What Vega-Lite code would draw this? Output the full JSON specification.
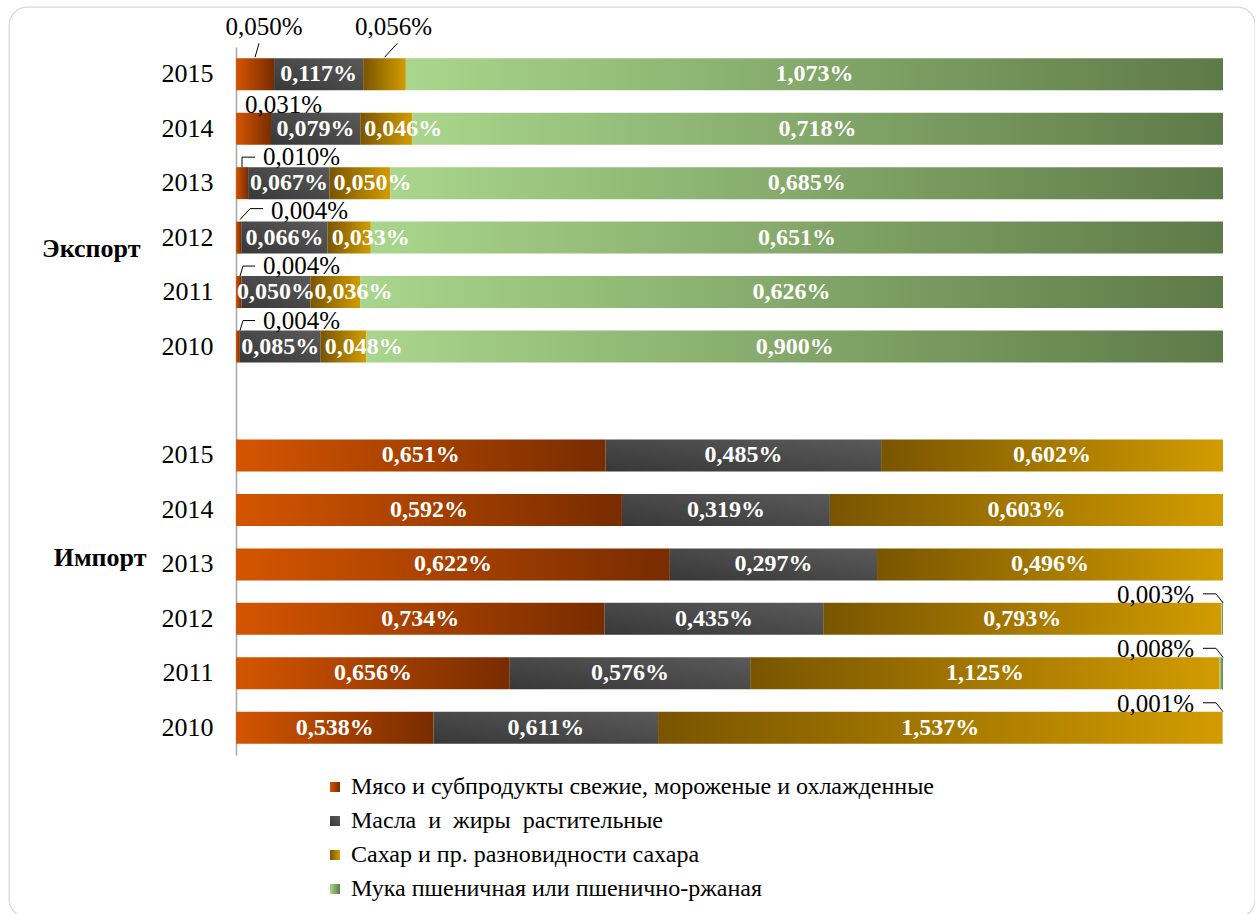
{
  "$schema": "https://vega.github.io/schema/vega-lite/v6.json",
  "width": 1246,
  "height": 910,
  "autosize": {"type": "none"},
  "padding": {"left": 9, "top": 7, "right": 0, "bottom": 0},
  "config": {
    "view": {"stroke": "#d9d9d9", "strokeWidth": 1.3, "cornerRadius": 18},
    "font": "Liberation Serif"
  },
  "data": {
    "values": [
      {"g": "Экспорт", "y": "2015", "k": "M", "v": 0.050},
      {"g": "Экспорт", "y": "2015", "k": "F", "v": 0.117},
      {"g": "Экспорт", "y": "2015", "k": "S", "v": 0.056},
      {"g": "Экспорт", "y": "2015", "k": "W", "v": 1.073},
      {"g": "Экспорт", "y": "2014", "k": "M", "v": 0.031},
      {"g": "Экспорт", "y": "2014", "k": "F", "v": 0.079},
      {"g": "Экспорт", "y": "2014", "k": "S", "v": 0.046},
      {"g": "Экспорт", "y": "2014", "k": "W", "v": 0.718},
      {"g": "Экспорт", "y": "2013", "k": "M", "v": 0.010},
      {"g": "Экспорт", "y": "2013", "k": "F", "v": 0.067},
      {"g": "Экспорт", "y": "2013", "k": "S", "v": 0.050},
      {"g": "Экспорт", "y": "2013", "k": "W", "v": 0.685},
      {"g": "Экспорт", "y": "2012", "k": "M", "v": 0.004},
      {"g": "Экспорт", "y": "2012", "k": "F", "v": 0.066},
      {"g": "Экспорт", "y": "2012", "k": "S", "v": 0.033},
      {"g": "Экспорт", "y": "2012", "k": "W", "v": 0.651},
      {"g": "Экспорт", "y": "2011", "k": "M", "v": 0.004},
      {"g": "Экспорт", "y": "2011", "k": "F", "v": 0.050},
      {"g": "Экспорт", "y": "2011", "k": "S", "v": 0.036},
      {"g": "Экспорт", "y": "2011", "k": "W", "v": 0.626},
      {"g": "Экспорт", "y": "2010", "k": "M", "v": 0.004},
      {"g": "Экспорт", "y": "2010", "k": "F", "v": 0.085},
      {"g": "Экспорт", "y": "2010", "k": "S", "v": 0.048},
      {"g": "Экспорт", "y": "2010", "k": "W", "v": 0.900},
      {"g": "Импорт", "y": "2015", "k": "M", "v": 0.651},
      {"g": "Импорт", "y": "2015", "k": "F", "v": 0.485},
      {"g": "Импорт", "y": "2015", "k": "S", "v": 0.602},
      {"g": "Импорт", "y": "2014", "k": "M", "v": 0.592},
      {"g": "Импорт", "y": "2014", "k": "F", "v": 0.319},
      {"g": "Импорт", "y": "2014", "k": "S", "v": 0.603},
      {"g": "Импорт", "y": "2013", "k": "M", "v": 0.622},
      {"g": "Импорт", "y": "2013", "k": "F", "v": 0.297},
      {"g": "Импорт", "y": "2013", "k": "S", "v": 0.496},
      {"g": "Импорт", "y": "2012", "k": "M", "v": 0.734},
      {"g": "Импорт", "y": "2012", "k": "F", "v": 0.435},
      {"g": "Импорт", "y": "2012", "k": "S", "v": 0.793},
      {"g": "Импорт", "y": "2012", "k": "W", "v": 0.003},
      {"g": "Импорт", "y": "2011", "k": "M", "v": 0.656},
      {"g": "Импорт", "y": "2011", "k": "F", "v": 0.576},
      {"g": "Импорт", "y": "2011", "k": "S", "v": 1.125},
      {"g": "Импорт", "y": "2011", "k": "W", "v": 0.008},
      {"g": "Импорт", "y": "2010", "k": "M", "v": 0.538},
      {"g": "Импорт", "y": "2010", "k": "F", "v": 0.611},
      {"g": "Импорт", "y": "2010", "k": "S", "v": 1.537},
      {"g": "Импорт", "y": "2010", "k": "W", "v": 0.001}
    ]
  },
  "transform": [
    {"calculate": "datum.g + ' ' + datum.y", "as": "r"},
    {"calculate": "indexof(['M','F','S','W'], datum.k)", "as": "o"},
    {"calculate": "datum.k == 'M' ? 'Мясо и субпродукты свежие, мороженые и охлажденные' : datum.k == 'F' ? 'Масла\u00a0 и\u00a0 жиры\u00a0 растительные' : datum.k == 'S' ? 'Сахар и пр. разновидности сахара' : 'Мука пшеничная или пшенично-ржаная'", "as": "c"},
    {"stack": "v", "groupby": ["r"], "sort": [{"field": "o", "order": "ascending"}], "offset": "normalize", "as": ["x0", "x1"]},
    {"calculate": "(datum.x0 + datum.x1) / 2", "as": "xm"},
    {"calculate": "replace(format(datum.v, '.3f'), '.', ',') + '%'", "as": "lab"}
  ],
  "resolve": {"axis": {"y": "independent"}},
  "layer": [
    {
      "mark": {"type": "bar"},
      "encoding": {
        "y": {
          "field": "r", "type": "nominal",
          "scale": {"domain": ["Экспорт 2015", "Экспорт 2014", "Экспорт 2013", "Экспорт 2012", "Экспорт 2011", "Экспорт 2010", " ", "Импорт 2015", "Импорт 2014", "Импорт 2013", "Импорт 2012", "Импорт 2011", "Импорт 2010"], "range": [40, 748], "paddingInner": 0.4124, "paddingOuter": 0.2062},
          "axis": {"orient": "left", "offset": -227, "title": null, "domain": true, "domainColor": "#a6a6a6", "domainWidth": 1.5, "ticks": false, "tickSize": 0, "grid": false, "labelPadding": 23, "labelFont": "Liberation Serif", "labelFontSize": 26, "labelColor": "#000000", "labelExpr": "slice(datum.value, -4)"}
        },
        "x": {"field": "x0", "type": "quantitative", "scale": {"domain": [0, 1], "range": [227, 1214], "nice": false}, "axis": null},
        "x2": {"field": "x1"},
        "color": {
          "field": "c", "type": "nominal",
          "scale": {
            "domain": ["Мясо и субпродукты свежие, мороженые и охлажденные", "Масла\u00a0 и\u00a0 жиры\u00a0 растительные", "Сахар и пр. разновидности сахара", "Мука пшеничная или пшенично-ржаная"],
            "range": [
              {"expr": "{gradient: 'linear', x1: 0, y1: 0, x2: 1, y2: 0, stops: [{offset: 0, color: '#d45500'}, {offset: 1, color: '#782c00'}]}"},
              {"expr": "{gradient: 'linear', x1: 0, y1: 1, x2: 1, y2: 0, stops: [{offset: 0, color: '#383838'}, {offset: 1, color: '#5a5a5a'}]}"},
              {"expr": "{gradient: 'linear', x1: 0, y1: 0, x2: 1, y2: 0, stops: [{offset: 0, color: '#795500'}, {offset: 1, color: '#d29c00'}]}"},
              {"expr": "{gradient: 'linear', x1: 0, y1: 0, x2: 1, y2: 0, stops: [{offset: 0, color: '#a9d68c'}, {offset: 1, color: '#5e7a48'}]}"}
            ]
          },
          "legend": {"orient": "none", "legendX": 314, "legendY": 768, "title": null, "direction": "vertical", "symbolType": "square", "symbolSize": 100, "symbolStrokeWidth": 0, "labelFont": "Liberation Serif", "labelFontSize": 24, "labelColor": "#000000", "labelLimit": 1000, "labelOffset": 4, "rowPadding": 10, "padding": 0}
        },
        "order": {"field": "o", "type": "quantitative"}
      }
    },
    {
      "transform": [{"filter": "datum.g == 'Импорт' ? datum.k != 'W' : (datum.k == 'F' || datum.k == 'W')"}],
      "mark": {"type": "text", "color": "#ffffff", "fontWeight": "bold", "fontSize": 24, "font": "Liberation Serif", "align": "center", "baseline": "middle"},
      "encoding": {
        "y": {
          "field": "r", "type": "nominal",
          "scale": {"domain": ["Экспорт 2015", "Экспорт 2014", "Экспорт 2013", "Экспорт 2012", "Экспорт 2011", "Экспорт 2010", " ", "Импорт 2015", "Импорт 2014", "Импорт 2013", "Импорт 2012", "Импорт 2011", "Импорт 2010"], "range": [40, 748], "paddingInner": 0.4124, "paddingOuter": 0.2062},
          "axis": {"orient": "left", "offset": -227, "title": null, "domain": false, "ticks": false, "tickSize": 0, "grid": false, "labelFont": "Liberation Serif", "labelFontSize": 26, "labelFontWeight": "bold", "labelColor": "#000000", "labelPadding": {"condition": {"test": "datum.value == 'Экспорт 2012'", "value": 96}, "value": 90}, "labelOffset": {"condition": {"test": "datum.value == 'Экспорт 2012'", "value": 11}, "value": -6}, "labelExpr": "datum.value == 'Экспорт 2012' ? 'Экспорт' : datum.value == 'Импорт 2013' ? 'Импорт' : ''"}
        },
        "x": {"field": "xm", "type": "quantitative", "scale": {"domain": [0, 1], "range": [227, 1214], "nice": false}, "axis": null},
        "text": {"field": "lab"}
      }
    },
    {
      "transform": [{"filter": "datum.g == 'Экспорт' && datum.k == 'S' && datum.y != '2015'"}],
      "mark": {"type": "text", "color": "#ffffff", "fontWeight": "bold", "fontSize": 24, "font": "Liberation Serif", "align": "left", "baseline": "middle", "dx": 4},
      "encoding": {
        "y": {"field": "r", "type": "nominal", "axis": null},
        "x": {"field": "x0", "type": "quantitative", "scale": {"domain": [0, 1], "range": [227, 1214], "nice": false}, "axis": null},
        "text": {"field": "lab"}
      }
    },
    {
      "transform": [{"filter": "datum.g == 'Экспорт' && datum.y == '2015' && (datum.k == 'M' || datum.k == 'S')"}],
      "mark": {"type": "text", "color": "#000000", "fontSize": 25, "font": "Liberation Serif", "align": "center", "baseline": "middle", "dx": 9, "dy": -47},
      "encoding": {
        "y": {"field": "r", "type": "nominal", "axis": null},
        "x": {"field": "xm", "type": "quantitative", "scale": {"domain": [0, 1], "range": [227, 1214], "nice": false}, "axis": null},
        "text": {"field": "lab"}
      }
    },
    {
      "transform": [{"filter": "datum.g == 'Экспорт' && datum.y == '2014' && datum.k == 'M'"}],
      "mark": {"type": "text", "color": "#000000", "fontSize": 25, "font": "Liberation Serif", "align": "left", "baseline": "middle", "dx": 9, "dy": -24},
      "encoding": {
        "y": {"field": "r", "type": "nominal", "axis": null},
        "x": {"field": "x0", "type": "quantitative", "scale": {"domain": [0, 1], "range": [227, 1214], "nice": false}, "axis": null},
        "text": {"field": "lab"}
      }
    },
    {
      "transform": [{"filter": "datum.g == 'Экспорт' && (datum.y == '2013' || datum.y == '2011' || datum.y == '2010') && datum.k == 'M'"}],
      "mark": {"type": "text", "color": "#000000", "fontSize": 25, "font": "Liberation Serif", "align": "left", "baseline": "middle", "dx": 27, "dy": -26},
      "encoding": {
        "y": {"field": "r", "type": "nominal", "axis": null},
        "x": {"field": "x0", "type": "quantitative", "scale": {"domain": [0, 1], "range": [227, 1214], "nice": false}, "axis": null},
        "text": {"field": "lab"}
      }
    },
    {
      "transform": [{"filter": "datum.g == 'Экспорт' && datum.y == '2012' && datum.k == 'M'"}],
      "mark": {"type": "text", "color": "#000000", "fontSize": 25, "font": "Liberation Serif", "align": "left", "baseline": "middle", "dx": 35, "dy": -27},
      "encoding": {
        "y": {"field": "r", "type": "nominal", "axis": null},
        "x": {"field": "x0", "type": "quantitative", "scale": {"domain": [0, 1], "range": [227, 1214], "nice": false}, "axis": null},
        "text": {"field": "lab"}
      }
    },
    {
      "transform": [{"filter": "datum.g == 'Импорт' && datum.k == 'W'"}],
      "mark": {"type": "text", "color": "#000000", "fontSize": 25, "font": "Liberation Serif", "align": "right", "baseline": "middle", "dx": -29, "dy": -24},
      "encoding": {
        "y": {"field": "r", "type": "nominal", "axis": null},
        "x": {"field": "x1", "type": "quantitative", "scale": {"domain": [0, 1], "range": [227, 1214], "nice": false}, "axis": null},
        "text": {"field": "lab"}
      }
    },
    {
      "transform": [{"filter": "datum.g == 'Экспорт' && datum.y == '2015' && datum.k == 'M'"}],
      "mark": {"type": "point", "shape": "M0,-17L4,-31", "size": 4, "filled": false, "stroke": "#000000", "strokeWidth": 1, "opacity": 1},
      "encoding": {
        "y": {"field": "r", "type": "nominal", "axis": null},
        "x": {"field": "xm", "type": "quantitative", "scale": {"domain": [0, 1], "range": [227, 1214], "nice": false}, "axis": null}
      }
    },
    {
      "transform": [{"filter": "datum.g == 'Экспорт' && datum.y == '2015' && datum.k == 'S'"}],
      "mark": {"type": "point", "shape": "M0,-17L13,-31", "size": 4, "filled": false, "stroke": "#000000", "strokeWidth": 1, "opacity": 1},
      "encoding": {
        "y": {"field": "r", "type": "nominal", "axis": null},
        "x": {"field": "xm", "type": "quantitative", "scale": {"domain": [0, 1], "range": [227, 1214], "nice": false}, "axis": null}
      }
    },
    {
      "transform": [{"filter": "datum.g == 'Экспорт' && datum.y == '2013' && datum.k == 'M'"}],
      "mark": {"type": "point", "shape": "M6,-16L6,-26L19,-26", "size": 4, "filled": false, "stroke": "#000000", "strokeWidth": 1, "opacity": 1},
      "encoding": {
        "y": {"field": "r", "type": "nominal", "axis": null},
        "x": {"field": "x0", "type": "quantitative", "scale": {"domain": [0, 1], "range": [227, 1214], "nice": false}, "axis": null}
      }
    },
    {
      "transform": [{"filter": "datum.g == 'Экспорт' && datum.y == '2012' && datum.k == 'M'"}],
      "mark": {"type": "point", "shape": "M4,-18L14,-29L27,-29", "size": 4, "filled": false, "stroke": "#000000", "strokeWidth": 1, "opacity": 1},
      "encoding": {
        "y": {"field": "r", "type": "nominal", "axis": null},
        "x": {"field": "x0", "type": "quantitative", "scale": {"domain": [0, 1], "range": [227, 1214], "nice": false}, "axis": null}
      }
    },
    {
      "transform": [{"filter": "datum.g == 'Экспорт' && (datum.y == '2011' || datum.y == '2010') && datum.k == 'M'"}],
      "mark": {"type": "point", "shape": "M4,-16L7,-26L19,-26", "size": 4, "filled": false, "stroke": "#000000", "strokeWidth": 1, "opacity": 1},
      "encoding": {
        "y": {"field": "r", "type": "nominal", "axis": null},
        "x": {"field": "x0", "type": "quantitative", "scale": {"domain": [0, 1], "range": [227, 1214], "nice": false}, "axis": null}
      }
    },
    {
      "transform": [{"filter": "datum.g == 'Импорт' && datum.k == 'W'"}],
      "mark": {"type": "point", "shape": "M-20,-25L-7,-25L0,-16", "size": 4, "filled": false, "stroke": "#000000", "strokeWidth": 1, "opacity": 1},
      "encoding": {
        "y": {"field": "r", "type": "nominal", "axis": null},
        "x": {"field": "x1", "type": "quantitative", "scale": {"domain": [0, 1], "range": [227, 1214], "nice": false}, "axis": null}
      }
    }
  ]
}
